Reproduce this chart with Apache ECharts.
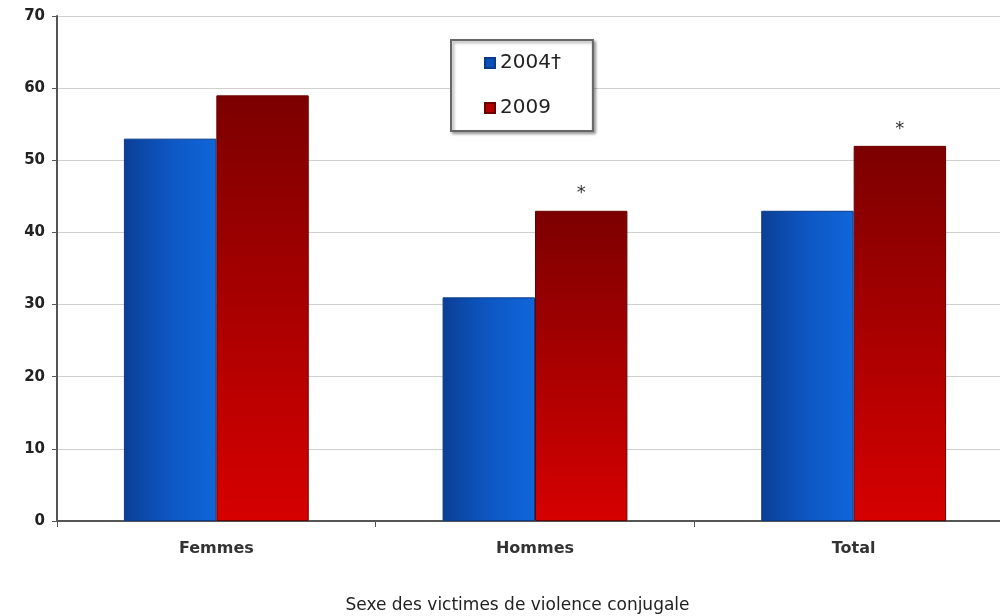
<!DOCTYPE html>
<html>
<head>
<meta charset="utf-8">
<script src="https://cdn.jsdelivr.net/npm/echarts@6/dist/echarts.min.js"></script>
<style>
  html, body { margin: 0; padding: 0; background: #fff; }
  #chart { width: 1000px; height: 616px; }
</style>
</head>
<body>
<div id="chart"></div>
<script>
// categories and values
const categories = ['Femmes', 'Hommes', 'Total'];
const values2004 = [53, 31, 43];
const values2009 = [59, 43, 52];
const notes2009 = ['', '*', '*'];
const yTicks = [0, 10, 20, 30, 40, 50, 60, 70];

const chart = echarts.init(document.getElementById('chart'));

const blueFill = new echarts.graphic.LinearGradient(0, 0, 1, 0, [
  { offset: 0, color: '#0b3f96' },
  { offset: 0.5, color: '#0d57c4' },
  { offset: 1, color: '#1066d8' }
]);
const redFill = new echarts.graphic.LinearGradient(0, 0, 0, 1, [
  { offset: 0, color: '#7c0000' },
  { offset: 1, color: '#d60000' }
]);

const option = {
  animation: false,
  textStyle: { fontFamily: 'DejaVu Sans' },
  grid: { left: 57, right: -13, top: 16, bottom: 95, outerBoundsMode: 'none' },
  legend: {
    orient: 'vertical',
    left: 451,
    top: 40,
    padding: [13, 32, 13, 33],
    itemGap: 25,
    itemWidth: 10,
    itemHeight: 10,
    icon: 'rect',
    borderColor: '#666',
    borderWidth: 2,
    backgroundColor: '#fff',
    shadowColor: 'rgba(0,0,0,0.35)',
    shadowOffsetX: 2,
    shadowOffsetY: 2,
    shadowBlur: 3,
    textStyle: { fontSize: 20, color: '#222', fontFamily: 'DejaVu Sans' },
    data: [
      { name: '2004†', itemStyle: { color: '#0b50b8' } },
      { name: '2009', itemStyle: { color: '#b00000' } }
    ]
  },
  xAxis: {
    type: 'category',
    data: categories,
    name: 'Sexe des victimes de violence conjugale',
    nameLocation: 'middle',
    nameGap: 76,
    nameTextStyle: { fontSize: 17, color: '#222', padding: [0, 35, 0, 0] },
    axisLine: { lineStyle: { color: '#555', width: 2 } },
    axisTick: { show: true, length: 6, lineStyle: { color: '#555' } },
    axisLabel: { fontSize: 16, fontWeight: 'bold', color: '#333', margin: 20 }
  },
  yAxis: {
    type: 'value',
    min: yTicks[0],
    max: yTicks[yTicks.length - 1],
    interval: 10,
    axisLine: { show: true, lineStyle: { color: '#555', width: 2 } },
    axisTick: { show: true, length: 5, lineStyle: { color: '#555' } },
    axisLabel: { fontSize: 15, fontWeight: 'bold', color: '#222', margin: 12 },
    splitLine: { lineStyle: { color: '#cfcfcf', width: 1 } }
  },
  series: [
    {
      name: '2004†',
      type: 'bar',
      data: values2004,
      barGap: '0%',
      barCategoryGap: '42%',
      itemStyle: { color: blueFill, borderColor: '#0a3a88', borderWidth: 1 }
    },
    {
      name: '2009',
      type: 'bar',
      data: values2009,
      itemStyle: { color: redFill, borderColor: '#6a0000', borderWidth: 1 },
      label: {
        show: true,
        position: 'top',
        distance: 8,
        fontSize: 18,
        color: '#333',
        formatter: p => notes2009[p.dataIndex]
      }
    }
  ]
};

chart.setOption(option);
</script>
</body>
</html>
